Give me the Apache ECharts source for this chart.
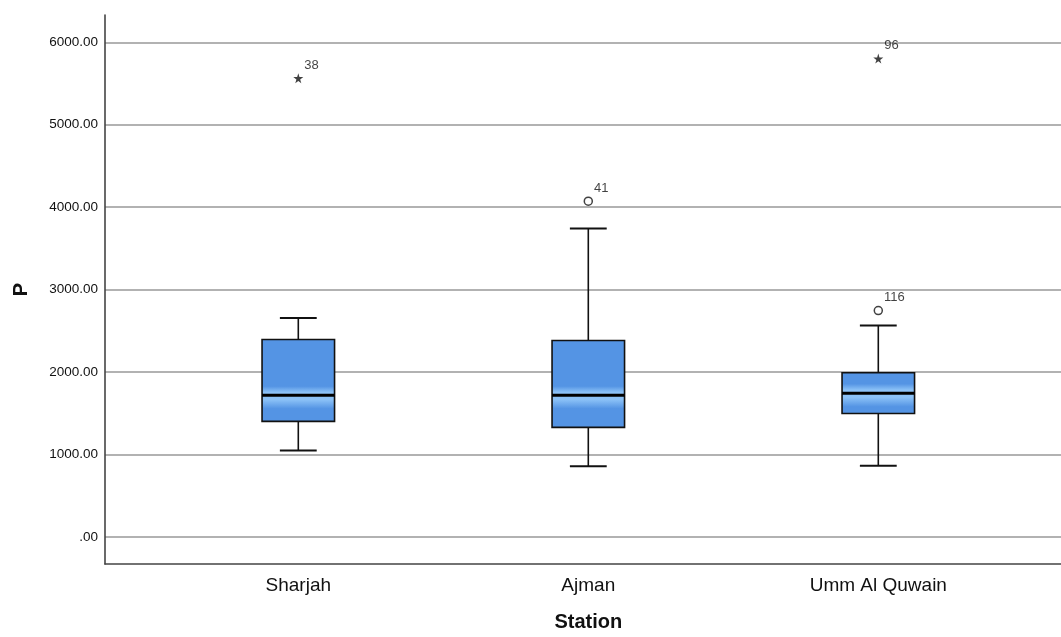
<!DOCTYPE html>
<html>
<head>
<meta charset="utf-8">
<script src="https://cdn.jsdelivr.net/npm/echarts@6.0.0/dist/echarts.min.js"></script>
<style>html,body{margin:0;padding:0;background:#fff;}#c{width:1061px;height:637px;}</style>
</head>
<body>
<div id="c"></div>
<script>
const categories = ['Sharjah', 'Ajman', 'Umm Al Quwain'];
const whiskerLow = [1019, 829, 833];
const q1 = [1375, 1302, 1472];
const median = [1695, 1695, 1719];
const q3 = [2374, 2362, 1969];
const whiskerHigh = [2636, 3728, 2544];
const extremeCat = [0, 2];
const extremeVal = [5560, 5799];
const extremeId = ['38', '96'];
const outlierCat = [1, 2];
const outlierVal = [4060, 2726];
const outlierId = ['41', '116'];
const yTicks = [0, 1000, 2000, 3000, 4000, 5000, 6000];

const Y_MIN = -327.5, Y_MAX = 6331;
const FONT = '"Liberation Sans", Arial, sans-serif';

const boxData = categories.map((c, i) => [i, whiskerLow[i], q1[i], median[i], q3[i], whiskerHigh[i]]);
const extremeData = extremeCat.map((c, i) => ({ value: [c, extremeVal[i]], id: extremeId[i] }));
const outlierData = outlierCat.map((c, i) => ({ value: [c, outlierVal[i]], id: outlierId[i] }));

function renderBox(params, api) {
  const x = api.value(0);
  const pLo = api.coord([x, api.value(1)]);
  const pQ1 = api.coord([x, api.value(2)]);
  const pMed = api.coord([x, api.value(3)]);
  const pQ3 = api.coord([x, api.value(4)]);
  const pHi = api.coord([x, api.value(5)]);
  const band = api.size([1, 0])[0];
  const bw = band * 0.25;
  const cw = band * 0.127;
  const cx = pMed[0];
  const h = pQ1[1] - pQ3[1];
  const m = (pMed[1] - pQ3[1]) / h;
  const cl = v => Math.max(0, Math.min(1, v));
  const base = '#5494E4', light = '#8CC2F7';
  const grad = new echarts.graphic.LinearGradient(0, 0, 0, 1, [
    { offset: 0, color: base },
    { offset: cl(m - 9 / h), color: base },
    { offset: cl(m - 3 / h), color: light },
    { offset: cl(m + 4 / h), color: light },
    { offset: cl(m + 13 / h), color: base },
    { offset: 1, color: base }
  ]);
  const line = { stroke: '#111', lineWidth: 1.6 };
  return {
    type: 'group',
    children: [
      { type: 'line', shape: { x1: cx, y1: pHi[1], x2: cx, y2: pQ3[1] }, style: line },
      { type: 'line', shape: { x1: cx, y1: pQ1[1], x2: cx, y2: pLo[1] }, style: line },
      { type: 'line', shape: { x1: cx - cw / 2, y1: pHi[1], x2: cx + cw / 2, y2: pHi[1] }, style: { stroke: '#111', lineWidth: 2 } },
      { type: 'line', shape: { x1: cx - cw / 2, y1: pLo[1], x2: cx + cw / 2, y2: pLo[1] }, style: { stroke: '#111', lineWidth: 2 } },
      { type: 'rect', shape: { x: cx - bw / 2, y: pQ3[1], width: bw, height: h }, style: { fill: grad, stroke: '#111', lineWidth: 1.6 } },
      { type: 'line', shape: { x1: cx - bw / 2, y1: pMed[1], x2: cx + bw / 2, y2: pMed[1] }, style: { stroke: '#000', lineWidth: 3 } }
    ]
  };
}

const pointLabel = {
  show: true,
  position: 'right',
  distance: 1,
  offset: [0, -13],
  formatter: p => p.data.id,
  fontFamily: FONT,
  fontSize: 13,
  color: '#111'
};

const chart = echarts.init(document.getElementById('c'), null, { renderer: 'canvas' });
chart.setOption({
  backgroundColor: '#fff',
  animation: false,
  grid: [
    { left: 105, right: 0, top: 15, bottom: 73 },
    { left: 153.3, width: 870, top: 15, bottom: 73 }
  ],
  xAxis: [
    {
      gridIndex: 0, type: 'value', min: 0, max: 1,
      axisLine: { show: true, onZero: false, lineStyle: { color: '#444', width: 1.6 } },
      axisTick: { show: false }, axisLabel: { show: false }, splitLine: { show: false }
    },
    {
      gridIndex: 1, type: 'category', data: categories,
      axisLine: { show: false, onZero: false }, axisTick: { show: false }, splitLine: { show: false },
      axisLabel: { fontFamily: FONT, fontSize: 19, color: '#111', margin: 15 },
      name: 'Station', nameLocation: 'middle', nameGap: 51,
      nameTextStyle: { fontFamily: FONT, fontSize: 20, fontWeight: 'bold', color: '#111' }
    }
  ],
  yAxis: [
    {
      gridIndex: 0, type: 'value', min: Y_MIN, max: Y_MAX,
      axisLine: { show: true, lineStyle: { color: '#444', width: 1.6 } },
      axisTick: { show: false, customValues: yTicks },
      axisLabel: {
        customValues: yTicks, margin: 7, fontFamily: FONT, fontSize: 13.5, color: '#111',
        formatter: v => (v === 0 ? '.00' : v.toFixed(2))
      },
      splitLine: { show: true, lineStyle: { color: '#999', width: 1.5 } },
      name: 'P', nameLocation: 'middle', nameGap: 74, nameRotate: 90,
      nameTextStyle: { fontFamily: FONT, fontSize: 20, fontWeight: 'bold', color: '#111' }
    },
    {
      gridIndex: 1, type: 'value', min: Y_MIN, max: Y_MAX, show: false,
      splitLine: { show: false }
    }
  ],
  series: [
    {
      type: 'custom', xAxisIndex: 1, yAxisIndex: 1,
      renderItem: renderBox, data: boxData,
      encode: { x: 0, y: [1, 2, 3, 4, 5] }
    },
    {
      type: 'scatter', xAxisIndex: 1, yAxisIndex: 1,
      symbol: 'path://M50,0 L61,35 L98,35 L68,57 L79,91 L50,70 L21,91 L32,57 L2,35 L39,35 Z',
      symbolSize: 10,
      itemStyle: { color: '#111' },
      label: pointLabel,
      data: extremeData
    },
    {
      type: 'scatter', xAxisIndex: 1, yAxisIndex: 1,
      symbol: 'circle', symbolSize: 8,
      itemStyle: { color: '#fff', borderColor: '#111', borderWidth: 1.5 },
      label: pointLabel,
      data: outlierData
    }
  ]
});
</script>
</body>
</html>
